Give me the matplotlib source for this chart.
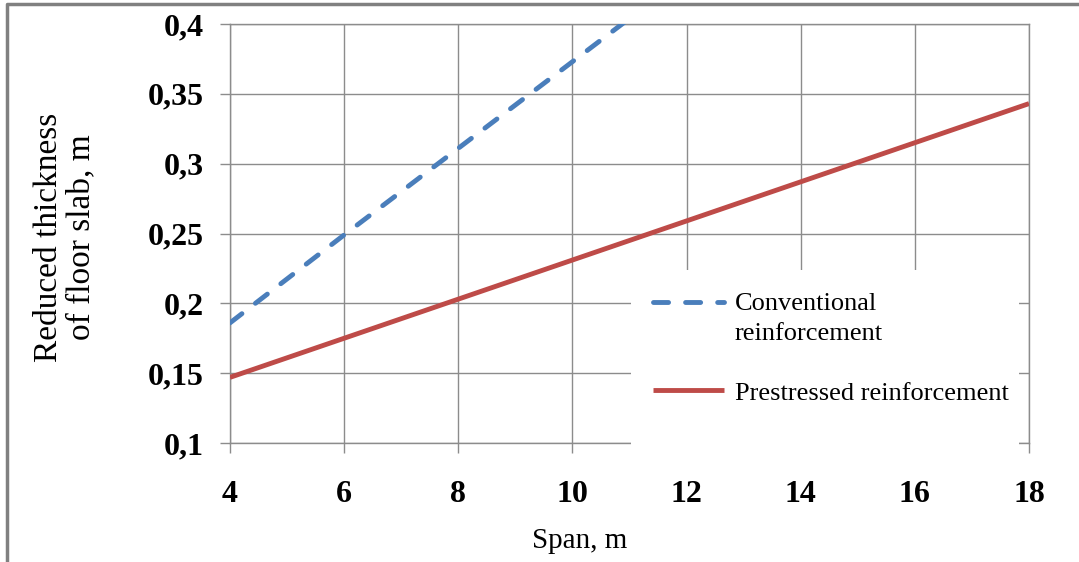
import matplotlib
matplotlib.use("Agg")
import numpy as np
import matplotlib.pyplot as plt
from matplotlib.lines import Line2D
from matplotlib.patches import Rectangle
from matplotlib.legend_handler import HandlerLine2D

# ---- data ----
span_conv = [4, 6, 8, 10, 12]
thick_conv = [0.186, 0.249, 0.311, 0.373, 0.435]
span_pre = [4, 6, 8, 10, 12, 14, 16, 18]
thick_pre = [0.147, 0.175, 0.203, 0.231, 0.259, 0.287, 0.315, 0.343]
x_ticks = [4, 6, 8, 10, 12, 14, 16, 18]
y_ticks = [0.1, 0.15, 0.2, 0.25, 0.3, 0.35, 0.4]
y_tick_labels = ["0,1", "0,15", "0,2", "0,25", "0,3", "0,35", "0,4"]
label_conv = "Conventional\nreinforcement"
label_pre = "Prestressed reinforcement"
x_label = "Span, m"
y_label = "Reduced thickness\nof floor slab, m"

W, H = 1079, 562
fig = plt.figure(figsize=(W / 100, H / 100), dpi=100)
plt.rcParams['font.family'] = ['Liberation Serif', 'DejaVu Serif']

ax = fig.add_axes([230 / W, 1 - 443 / H, (1029 - 230) / W, (443 - 24) / H])
grid_c = '#8c8c8c'
ax.set_xlim(4, 18)
ax.set_ylim(0.1, 0.4)
ax.set_xticks(x_ticks)
ax.set_xticklabels([str(t) for t in x_ticks])
ax.set_yticks(y_ticks)
ax.set_yticklabels(y_tick_labels)
ax.grid(True, color=grid_c, lw=1.0)
ax.set_axisbelow(True)
for s in ax.spines.values():
    s.set_color(grid_c)
    s.set_linewidth(1.0)
ax.tick_params(axis='both', direction='out', length=7, width=1.0, color=grid_c,
               labelsize=23)
ax.tick_params(axis='x', pad=20)
ax.tick_params(axis='y', pad=12)
for lab in ax.get_xticklabels() + ax.get_yticklabels():
    lab.set_fontweight('bold')

l1, = ax.plot(span_conv, thick_conv, color='#4a7ebb', lw=3.5, dashes=(3.1, 3.5),
              dash_capstyle='round', label=label_conv, zorder=3)
l2, = ax.plot(span_pre, thick_pre, color='#be4b48', lw=3.5,
              solid_capstyle='butt', label=label_pre, zorder=3)


class RaisedHandler(HandlerLine2D):
    def __init__(self, dy, **kw):
        super().__init__(**kw)
        self.dy = dy

    def create_artists(self, *args, **kwargs):
        arts = super().create_artists(*args, **kwargs)
        for a in arts:
            a.set_ydata(np.asarray(a.get_ydata()) + self.dy)
        return arts


# white legend area
ax.add_patch(Rectangle((631 / W, 1 - 456 / H), (1019 - 631) / W, (456 - 270) / H,
                       transform=fig.transFigure, facecolor='white', edgecolor='none',
                       clip_on=False, zorder=4))
leg = ax.legend(handles=[l1, l2], loc='upper left',
                bbox_to_anchor=(632 / W, 1 - 272 / H), bbox_transform=fig.transFigure,
                frameon=False, fontsize=19, borderpad=0.8, borderaxespad=0,
                handlelength=2.7, handletextpad=0.4, labelspacing=1.38,
                handler_map={l1: RaisedHandler(12.0)})
leg.get_texts()[0].set_linespacing(1.45)
leg.set_zorder(5)

fig.text(580 / W, 1 - 541 / H, x_label, ha='center', va='center', fontsize=21)
fig.text(65 / W, 1 - 237 / H, y_label, ha='center', va='center', rotation=90,
         fontsize=24, multialignment='center', linespacing=1.1)

# figure border (top and left)
fig.add_artist(Line2D([7 / W, 7 / W, 1.0], [0.0, 1 - 4 / H, 1 - 4 / H],
                      transform=fig.transFigure, color='#808080', lw=2.5))

fig.savefig('out.png', dpi=100)
